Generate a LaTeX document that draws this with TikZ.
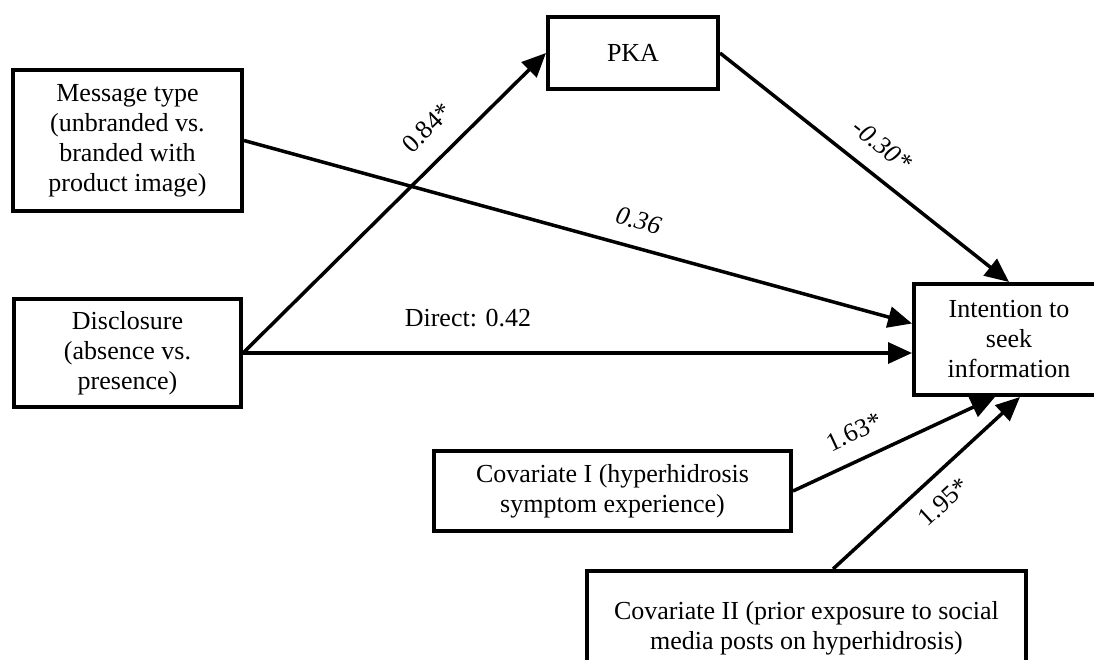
\documentclass[tikz,border=0pt]{standalone}
\usepackage{fontspec}
\setmainfont{Liberation Serif}
\usetikzlibrary{arrows.meta,calc}
\begin{document}
\begin{tikzpicture}[x=1pt,y=-1pt,
  box/.style={draw,line width=4pt,inner sep=0pt,align=center,font=\fontsize{26}{30}\selectfont},
  arr/.style={line width=3.5pt,-{Triangle[length=24pt,width=21pt]}},
  lab/.style={font=\fontsize{26}{30}\selectfont,inner sep=0pt},
]
\useasboundingbox (0,0) rectangle (1094,659);
\clip (0,0) rectangle (1094,659);

% variables
\node[box,minimum width=229pt,minimum height=141pt] (msg) at (127.5,140.5)
  {Message type\\(unbranded vs.\\branded with\\product image)};
\node[box,minimum width=227pt,minimum height=108pt] (dis) at (127.5,353)
  {Disclosure\\(absence vs.\\presence)};
\node[box,minimum width=170pt,minimum height=72pt] (pka) at (633,53) {PKA};
\node[box,minimum width=190pt,minimum height=111pt] (int) at (1009,339.5)
  {Intention to\\seek\\information};
\node[box,minimum width=357pt,minimum height=80pt] (cov1) at (612.5,491)
  {Covariate I (hyperhidrosis\\symptom experience)};
\node[box,minimum width=439pt,minimum height=114pt] (cov2) at (806.5,628)
  {Covariate II (prior exposure to social\\media posts on hyperhidrosis)};

% connector end points on the outcome box
\coordinate (intmsg) at ([yshift=16pt]int.west);
\coordinate (intdis) at (dis.east -| int.west);
\coordinate (intc1) at ([xshift=-14pt]int.south);
\coordinate (intc2) at ([xshift=11pt]int.south);
\coordinate (c2top) at ([xshift=26.5pt]cov2.north);

% paths
\draw[arr] (dis.east) -- (pka.west)
  node[lab,pos=0.678,sloped,above=20pt] {0.84*};
\draw[arr] (msg.east) -- (intmsg)
  node[lab,pos=0.58,sloped,above=16.5pt] {\itshape 0.36};
\draw[arr] (dis.east) -- (intdis);
\node[lab] (direct) at (468,318) {Direct: 0.42};
\draw[arr] (pka.east) -- (int.north)
  node[lab,pos=0.5,sloped,above=18pt] {\itshape -0.30*};
\draw[arr] (cov1.east) -- (intc1)
  node[lab,pos=0.36,sloped,above=17pt] {1.63*};
\draw[arr] (c2top) -- (intc2)
  node[lab,pos=0.5,sloped,below=15pt] {1.95*};
\end{tikzpicture}
\end{document}
